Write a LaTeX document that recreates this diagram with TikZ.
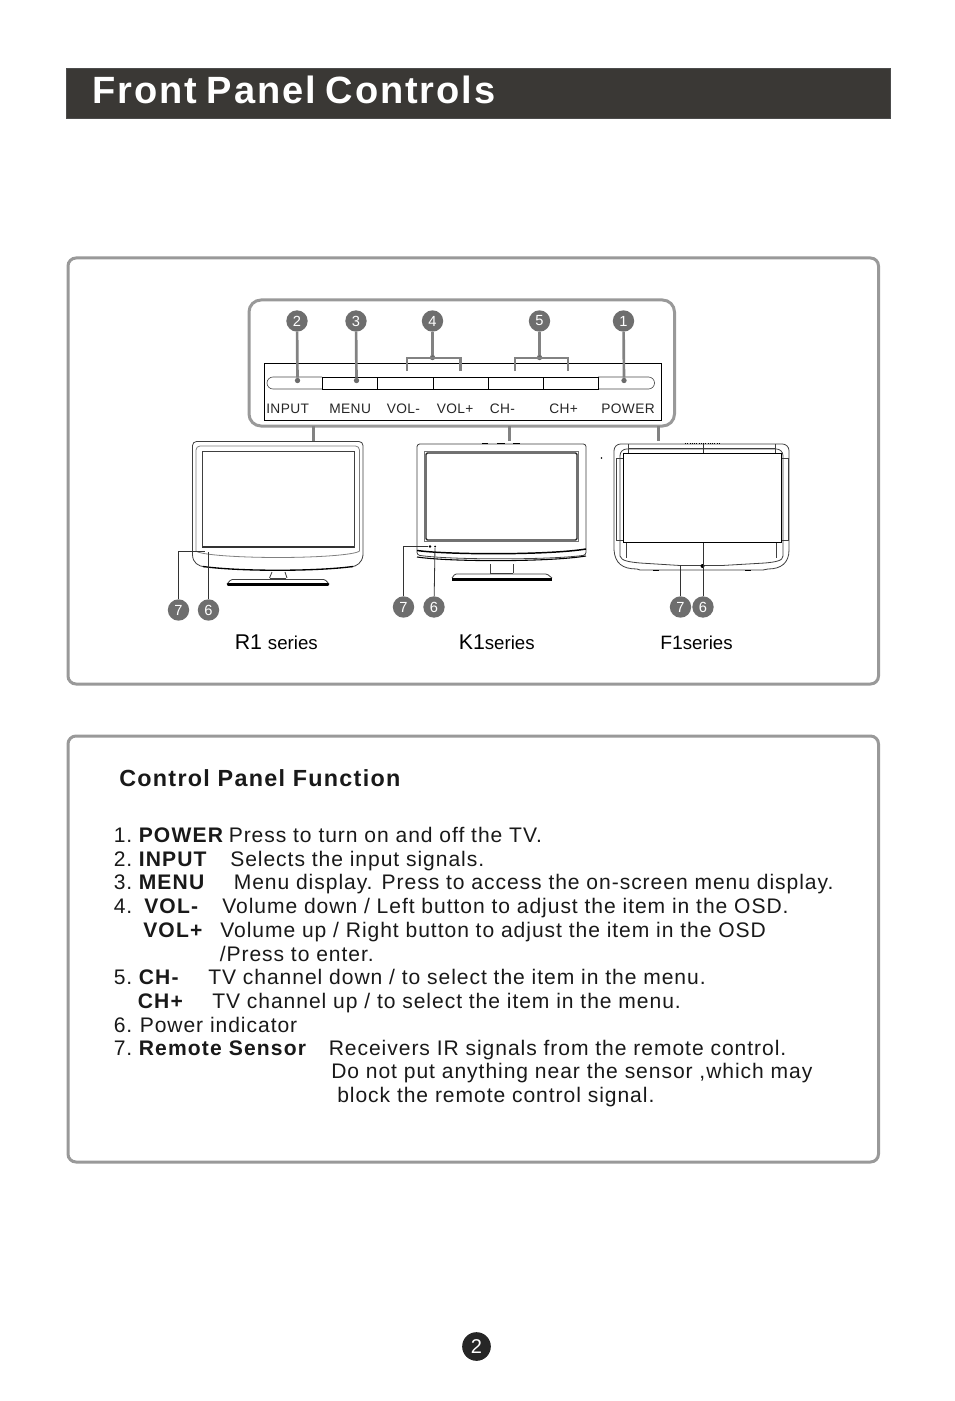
\documentclass[tikz,border=0pt]{standalone}
\usepackage{fontspec}
\setmainfont{Liberation Sans}
\newfontfamily\bodyf[LetterSpace=4.5]{Liberation Sans}
\newfontfamily\bodyb[LetterSpace=5.5]{Liberation Sans Bold}
\newfontfamily\titlef[LetterSpace=5,WordSpace=0.8]{Liberation Sans Bold}
\newfontfamily\keyf[LetterSpace=3]{Liberation Sans}
\definecolor{framegray}{gray}{0.6}
\definecolor{badge}{gray}{0.43}
\definecolor{titlebg}{HTML}{3A3835}
\tikzset{
  x=0.75pt,y=-0.75pt,
  framebox/.style={draw=framegray,line width=2.25pt,rounded corners=6pt},
  mark circle/.style={circle,fill=badge,draw=none,minimum size=16pt,inner sep=0pt,text=white,font=\fontsize{11}{11}\selectfont},
  graylead/.style={draw=framegray!85!black,line width=2pt},
  thin lead/.style={draw=black!80,line width=0.6pt},
  tvline/.style={draw=black!75,line width=0.6pt},
  tvheavy/.style={draw=black,line width=1.1pt},
  keylabel/.style={anchor=base west,inner sep=0pt,font=\keyf\fontsize{10.3}{12}\selectfont,text=black!85},
  txt/.style={anchor=base west,inner sep=0pt,font=\bodyf\fontsize{15.8}{18}\selectfont,text=black!90},
  txtb/.style={anchor=base west,inner sep=0pt,font=\bodyb\fontsize{15.8}{18}\selectfont,text=black!90},
  dotmark/.style={circle,fill=framegray!70!black,inner sep=0pt,minimum size=4pt},
  smalldot/.style={circle,fill=black,inner sep=0pt,minimum size=2pt},
}
\begin{document}
\begin{tikzpicture}
\useasboundingbox (0,0) rectangle (954,1401);
\fill[white] (0,0) rectangle (954,1401);
% title
\node[draw=black!70,line width=.5pt,fill=titlebg,minimum width=618pt,minimum height=37.5pt,inner sep=0pt,anchor=north west] (titlebar) at (66,68.5) {};
\node[anchor=base west,inner sep=0pt,text=white,font=\titlef\fontsize{28.5}{30}\selectfont] (title) at (92,104) {Front Panel Controls};
% frames
\draw[framebox] (68,258) rectangle (878.5,684);
\draw[framebox] (68,736) rectangle (878.5,1162);
\draw[framebox,rounded corners=9pt] (249,300) rectangle (674.5,426);
% drops
\coordinate (d1a) at (313.5,426); \coordinate (d1b) at (313.5,441);
\coordinate (d2a) at (509.5,426); \coordinate (d2b) at (509.5,441);
\coordinate (d3a) at (658.5,426); \coordinate (d3b) at (658.5,441);
\draw[graylead] (d1a)--(d1b); \draw[graylead] (d2a)--(d2b); \draw[graylead] (d3a)--(d3b);
% panel
\draw[black,line width=.6pt] (264.5,363.5) rectangle (661.5,420.5);
\draw[black!70,line width=.5pt,rounded corners=4.5pt] (322,377) -- (267,377) -- (267,389) -- (322,389);
\draw[black!70,line width=.5pt,rounded corners=4.5pt] (598,377) -- (654.5,377) -- (654.5,389) -- (598,389);
\draw[black,line width=.6pt] (322,377) rectangle (598,389);
\foreach \x in {377.5,433.5,488,543} \draw[black,line width=.6pt] (\x,377)--(\x,389);
\node[keylabel] (kinput) at (266,413) {INPUT};
\node[keylabel] (kmenu) at (329,413) {MENU};
\node[keylabel] (kvolm) at (386.5,413) {VOL-};
\node[keylabel] (kvolp) at (436.5,413) {VOL+};
\node[keylabel] (kchm) at (489.5,413) {CH-};
\node[keylabel] (kchp) at (549,413) {CH+};
\node[keylabel] (kpower) at (601,413) {POWER};
% badges
\node[mark circle] (b2) at (297,321) {2};
\node[mark circle] (b3) at (356,321) {3};
\node[mark circle] (b4) at (432.5,321) {4};
\node[mark circle] (b5) at (539.5,321) {5};
\node[mark circle] (b1) at (623.5,321) {1};
\node[dotmark] (p2) at (297.5,380.5) {};
\node[dotmark] (p3) at (356.5,380.5) {};
\node[dotmark] (p1) at (624,380.5) {};
\node[dotmark] (j4) at (432.5,357.5) {};
\node[dotmark] (j5) at (539.5,357.5) {};
\draw[graylead] (b2)--(p2); \draw[graylead] (b3)--(p3); \draw[graylead] (b1)--(p1);
\draw[graylead] (b4)--(j4); \draw[graylead] (b5)--(j5);
\draw[graylead] (407,371)--(407,358)--(460.5,358)--(460.5,371);
\draw[graylead] (515,371)--(515,358)--(568,358)--(568,371);
% R1 TV
\draw[tvline,rounded corners=3pt] (192.5,555) -- (192.5,441.5) -- (363,441.5) -- (363,555);
\draw[tvline] (192.5,555) .. controls (193,563) and (198,566) .. (205,567);
\draw[tvline] (363,555) .. controls (362,563) and (357,566) .. (351,567);
\draw[black,line width=1pt] (203,566.5) .. controls (240,571.5) and (315,571.5) .. (353,566.5);
\draw[tvline,rounded corners=3pt,draw=black!50] (196,551) -- (196,446) -- (359.5,446) -- (359.5,551);
\draw[tvline,draw=black!50] (196,551) .. controls (200,555) and (240,557.5) .. (278,557.5) .. controls (316,557.5) and (355,555) .. (359.5,551);
\draw[tvline] (202,451) rectangle (354,547);
\draw[tvheavy,draw=black!80] (202,547)--(354,547);
\draw[tvline] (272,572) -- (269.5,578); \draw[tvline] (285,572) -- (287,578);
\draw[tvline] (270,578)--(286,578);
\draw[tvline,rounded corners=1pt] (227,584) -- (231,579.5) -- (325,579.5) -- (329,584);
\draw[black,line width=1.8pt,line cap=round] (228,584.5)--(328,584.5);
\node[mark circle] (r7) at (178.5,610) {7};
\node[mark circle] (r6) at (208.5,610) {6};
\coordinate (r7end) at (205,551.5);
\coordinate (r6end) at (208.5,552);
\draw[thin lead] (r7) |- (r7end);
\draw[thin lead] (r6) -- (r6end);
% K1 TV
\draw[tvline,rounded corners=2pt] (417,444) -- (586,444) -- (586,555) .. controls (550,560) and (450,560) .. (417,555) -- cycle;
\draw[black,line width=.7pt] (482,443.5)--(488,443.5) (497,443.5)--(505,443.5) (513,443.5)--(520,443.5);
\draw[tvheavy,draw=black!85,rounded corners=1pt] (426,453) rectangle (577,540);
\draw[tvline,draw=black!55] (424.5,451.5) rectangle (578.5,541.5);
\draw[black,line width=1.1pt] (417,550.5) .. controls (450,555) and (550,555) .. (586,549);
\draw[black,line width=.8pt] (417,557) .. controls (450,562) and (550,562) .. (586,556);
\draw[tvline] (490,564)--(490,573) (513,564)--(513,573) (490,573)--(513,573);
\draw[tvline,rounded corners=1pt] (452,578) -- (455,574) -- (547,574) -- (552,578);
\draw[black,line width=1.6pt] (452,579.5)--(552,579.5);
\node[smalldot,minimum size=1.2pt] (kspeck) at (601.5,458) {};
\node[mark circle] (k7) at (403.5,607) {7};
\node[mark circle] (k6) at (434,607) {6};
\node[smalldot] (k7end) at (430,546.5) {};
\node[smalldot,minimum size=1.5pt] (k6end) at (435,546.5) {};
\draw[thin lead] (k7) |- (k7end);
\draw[thin lead] (k6) -- (k6end);
% F1 TV
\draw[tvline,rounded corners=5pt] (614,550) -- (614,444) -- (789,444) -- (789,550);
\draw[tvline] (614,550) .. controls (615,563) and (622,569) .. (637,569) -- (640,570) -- (763,570) -- (768,569) .. controls (781,569) and (789,563) .. (789,550);
\draw[tvline,rounded corners=5pt] (620,556) -- (620,449) -- (783,449) -- (783,556);
\draw[tvline] (620,556) .. controls (621,561) and (630,562) .. (640,563) -- (680,565.5) -- (722,565.5) -- (765,563) .. controls (775,562) and (783,561) .. (783,556);
\draw[tvline] (616,458) rectangle (623,540);
\draw[tvline] (781,458) rectangle (788,540);
\draw[tvline] (628,444) -- (628,453) (775,444)--(775,453);
\draw[tvline] (628,448)--(775,448);
\draw[black,line width=.7pt] (623.5,453.5) rectangle (781.5,542.5);
\draw[black,line width=1.2pt] (623.5,542.5)--(781.5,542.5);
\draw[black,line width=.7pt,densely dotted] (685,443.5)--(720,443.5);
\draw[tvline] (626,542.5)--(626,558) (776,542.5)--(776,558);
\draw[black,line width=1pt] (653,570.5)--(659,570.5) (745,570.5)--(751,570.5);
\coordinate (ftop1) at (703,444); \coordinate (ftop2) at (703,453);
\draw[thin lead] (ftop1)--(ftop2);
\node[mark circle] (f7) at (680.5,607) {7};
\node[mark circle] (f6) at (703,607) {6};
\coordinate (f7end) at (680.5,565);
\coordinate (f6end) at (703,543);
\node[smalldot,minimum size=3pt] (fled) at (702.5,566) {};
\draw[thin lead] (f7) -- (f7end);
\draw[thin lead] (f6) -- (f6end);
% series labels
\node[anchor=base west,inner sep=0pt] (sr) at (234.5,649) {\fontsize{16}{18}\selectfont R1 \fontsize{14}{18}\selectfont series};
\node[anchor=base west,inner sep=0pt] (sk) at (458.5,649) {\fontsize{16}{18}\selectfont K1\fontsize{14}{18}\selectfont series};
\node[anchor=base west,inner sep=0pt] (sf) at (660,649) {\fontsize{14.5}{18}\selectfont F1\fontsize{14}{18}\selectfont series};
% function text
\node[txtb,font=\bodyb\fontsize{17.5}{18}\selectfont] (cpf) at (119,786) {Control Panel Function};
\node[txt] (l1a) at (113.5,842) {1.};
\node[txtb] (l1b) at (138.5,842) {POWER};
\node[txt] (l1c) at (228.5,842) {Press to turn on and off the TV.};
\node[txt] (l2a) at (113.5,866) {2.};
\node[txtb] (l2b) at (138.5,866) {INPUT};
\node[txt] (l2c) at (230,866) {Selects the input signals.};
\node[txt] (l3a) at (113.5,889) {3.};
\node[txtb] (l3b) at (138.5,889) {MENU};
\node[txt] (l3c) at (233.5,889) {Menu display. Press to access the on-screen menu display.};
\node[txt] (l4a) at (113.5,913) {4.};
\node[txtb] (l4b) at (144,913) {VOL-};
\node[txt] (l4c) at (222,913) {Volume down / Left button to adjust the item in the OSD.};
\node[txtb] (l5b) at (143,937) {VOL+};
\node[txt] (l5c) at (220,937) {Volume up / Right button to adjust the item in the OSD};
\node[txt] (l6c) at (219.5,961) {/Press to enter.};
\node[txt] (l7a) at (113.5,984) {5.};
\node[txtb] (l7b) at (138.5,984) {CH-};
\node[txt] (l7c) at (208,984) {TV channel down / to select the item in the menu.};
\node[txtb] (l8b) at (137.5,1008) {CH+};
\node[txt] (l8c) at (212,1008) {TV channel up / to select the item in the menu.};
\node[txt] (l9a) at (113.5,1032) {6.};
\node[txt] (l9b) at (139.5,1032) {Power indicator};
\node[txt] (l10a) at (113.5,1055) {7.};
\node[txtb] (l10b) at (138.5,1055) {Remote Sensor};
\node[txt] (l10c) at (328.5,1055) {Receivers IR signals from the remote control.};
\node[txt] (l11) at (331,1078.5) {Do not put anything near the sensor ,which may};
\node[txt] (l12) at (337,1102) {block the remote control signal.};
% page number
\node[circle,fill=black!85,minimum size=21.5pt,inner sep=0pt,text=white,font=\fontsize{15}{15}\selectfont] (page) at (476.5,1346.5) {2};
\end{tikzpicture}
\end{document}
